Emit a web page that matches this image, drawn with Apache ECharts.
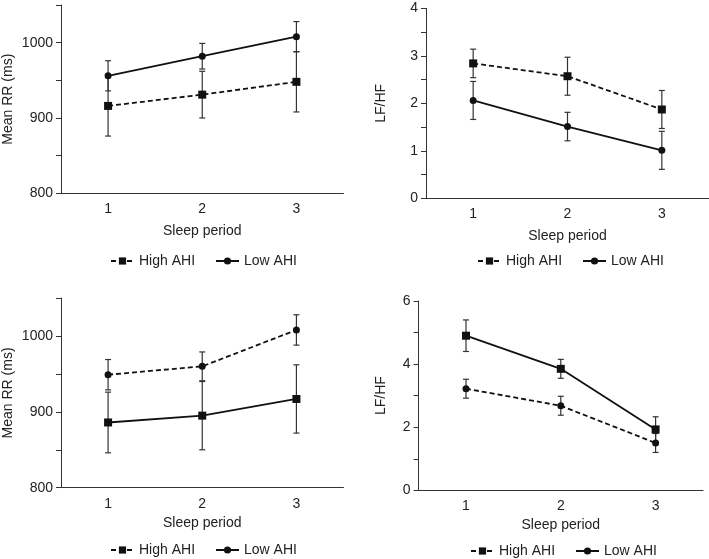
<!DOCTYPE html>
<html>
<head>
<meta charset="utf-8">
<script src="https://cdn.jsdelivr.net/npm/echarts@6/dist/echarts.min.js"></script>
<style>
html,body{margin:0;padding:0;background:#fff;}
#chart{width:709px;height:559px;}
</style>
</head>
<body>
<div id="chart"></div>
<script>
// ---- data ----
var categories = ['1', '2', '3'];
// top-left: Mean RR (ms)
var rrHighTop = [916, 931, 948];
var rrHighTopErr = [40, 31, 40];
var rrLowTop = [956, 982, 1008];
var rrLowTopErr = [20, 17, 20];
// top-right: LF/HF
var lfHighTop = [2.84, 2.57, 1.87];
var lfHighTopErr = [0.3, 0.4, 0.4];
var lfLowTop = [2.06, 1.51, 1.01];
var lfLowTopErr = [0.4, 0.3, 0.4];
// bottom-left: Mean RR (ms)
var rrHighBot = [949, 960, 1008];
var rrHighBotErr = [20, 19, 20];
var rrLowBot = [886, 895, 917];
var rrLowBotErr = [40, 45, 45];
// bottom-right: LF/HF
var lfHighBot = [3.22, 2.68, 1.50];
var lfHighBotErr = [0.3, 0.3, 0.3];
var lfLowBot = [4.90, 3.85, 1.93];
var lfLowBotErr = [0.5, 0.3, 0.4];

var seriesNames = ['High AHI', 'Low AHI'];
var xTitle = 'Sleep period';
var rrTitle = 'Mean RR (ms)';
var lfTitle = 'LF/HF';

// ---- style ----
var FONT = 'Liberation Sans, Arial, Helvetica, sans-serif';
var TXT = '#222';
var AX = '#333';

function xAxisCfg(idx, gap) {
  return {
    type: 'category', gridIndex: idx, data: categories, boundaryGap: true,
    name: xTitle, nameLocation: 'middle', nameGap: gap,
    nameTextStyle: {fontFamily: FONT, fontSize: 14, color: TXT},
    axisLine: {lineStyle: {color: AX, width: 1}},
    axisTick: {alignWithLabel: true, length: 5, lineStyle: {color: AX}},
    axisLabel: {fontFamily: FONT, fontSize: 14, color: TXT, margin: 9},
    splitLine: {show: false}
  };
}
function yAxisCfg(idx, min, max, interval, labelStep, title, gap) {
  return {
    type: 'value', gridIndex: idx, min: min, max: max, interval: interval,
    name: title, nameLocation: 'middle', nameGap: gap, nameRotate: 90,
    nameTextStyle: {fontFamily: FONT, fontSize: 14, color: TXT},
    axisLine: {show: true, lineStyle: {color: AX, width: 1}},
    axisTick: {show: true, length: 5, lineStyle: {color: AX}},
    axisLabel: {fontFamily: FONT, fontSize: 14, color: TXT, margin: 8,
      formatter: function (v) {
        var r = Math.round(v * 1000) / 1000;
        return (Math.abs(r / labelStep - Math.round(r / labelStep)) < 1e-6) ? String(r) : '';
      }},
    splitLine: {show: false}
  };
}
function lineSeries(name, idx, values, symbol, dashed) {
  return {
    type: 'line', name: name, xAxisIndex: idx, yAxisIndex: idx,
    data: values, symbol: symbol, symbolSize: symbol === 'rect' ? 8 : 7,
    lineStyle: {color: '#111', width: 1.8, type: dashed ? [5, 3] : 'solid'},
    itemStyle: {color: '#111'}, z: 3, animation: false
  };
}
function errSeries(idx, values, errs) {
  var d = values.map(function (v, i) { return [i, v - errs[i], v + errs[i]]; });
  return {
    type: 'custom', name: 'err', xAxisIndex: idx, yAxisIndex: idx, z: 2,
    silent: true, animation: false,
    data: d,
    renderItem: function (params, api) {
      var lo = api.coord([api.value(0), api.value(1)]);
      var hi = api.coord([api.value(0), api.value(2)]);
      var c = 3;
      var st = {stroke: '#333', lineWidth: 1.2};
      return {type: 'group', children: [
        {type: 'line', shape: {x1: lo[0], y1: lo[1], x2: hi[0], y2: hi[1]}, style: st},
        {type: 'line', shape: {x1: lo[0] - c, y1: lo[1], x2: lo[0] + c, y2: lo[1]}, style: st},
        {type: 'line', shape: {x1: hi[0] - c, y1: hi[1], x2: hi[0] + c, y2: hi[1]}, style: st}
      ]};
    }
  };
}
function legendCfg(left, top) {
  return {
    left: left, top: top, padding: 0, itemWidth: 23, itemHeight: 9, itemGap: 20,
    textStyle: {fontFamily: FONT, fontSize: 14, color: TXT},
    data: seriesNames, selectedMode: false
  };
}

var chart = echarts.init(document.getElementById('chart'), null, {renderer: 'canvas'});
chart.setOption({
  animation: false,
  backgroundColor: '#fff',
  grid: [
    {left: 60, top: 5, width: 283.5, height: 188.3},
    {left: 426, top: 8.3, width: 283.5, height: 190},
    {left: 60, top: 298.1, width: 283.5, height: 189.6},
    {left: 418.6, top: 301, width: 284.4, height: 189.3}
  ],
  xAxis: [xAxisCfg(0, 31), xAxisCfg(1, 31), xAxisCfg(2, 28), xAxisCfg(3, 28)],
  yAxis: [
    yAxisCfg(0, 800, 1050, 50, 100, rrTitle, 46),
    yAxisCfg(1, 0, 4, 0.5, 1, lfTitle, 38),
    yAxisCfg(2, 800, 1050, 50, 100, rrTitle, 46),
    yAxisCfg(3, 0, 6, 1, 2, lfTitle, 30)
  ],
  legend: [legendCfg(110, 254), legendCfg(477, 254), legendCfg(110, 543), legendCfg(470, 544)],
  series: [
    lineSeries(seriesNames[0], 0, rrHighTop, 'rect', true),
    lineSeries(seriesNames[1], 0, rrLowTop, 'circle', false),
    errSeries(0, rrHighTop, rrHighTopErr),
    errSeries(0, rrLowTop, rrLowTopErr),
    lineSeries(seriesNames[0], 1, lfHighTop, 'rect', true),
    lineSeries(seriesNames[1], 1, lfLowTop, 'circle', false),
    errSeries(1, lfHighTop, lfHighTopErr),
    errSeries(1, lfLowTop, lfLowTopErr),
    lineSeries(seriesNames[0], 2, rrHighBot, 'circle', true),
    lineSeries(seriesNames[1], 2, rrLowBot, 'rect', false),
    errSeries(2, rrHighBot, rrHighBotErr),
    errSeries(2, rrLowBot, rrLowBotErr),
    lineSeries(seriesNames[0], 3, lfHighBot, 'circle', true),
    lineSeries(seriesNames[1], 3, lfLowBot, 'rect', false),
    errSeries(3, lfHighBot, lfHighBotErr),
    errSeries(3, lfLowBot, lfLowBotErr)
  ]
});
</script>
</body>
</html>
